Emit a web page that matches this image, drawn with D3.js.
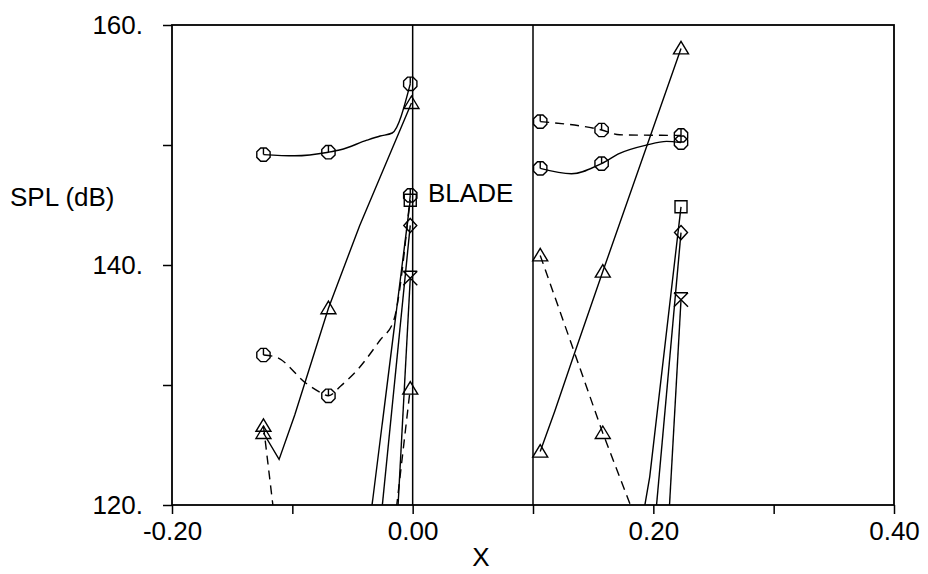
<!DOCTYPE html>
<html>
<head>
<meta charset="utf-8">
<script src="https://cdn.jsdelivr.net/npm/d3@7"></script>
<style>
body { margin: 0; background: #fff; }
text { font-family: "Liberation Sans", Arial, sans-serif; }
</style>
</head>
<body>
<script>
var w = 928,
    h = 574;

// axis ticks
var xTicks = [-0.2, -0.1, 0, 0.1, 0.2, 0.3, 0.4];
var yTicks = [120, 130, 140, 150, 160];
// vertical reference lines (blade positions)
var bladeX = [0, 0.1];
// x stations where the symbols sit
var markX = [-0.124, -0.07, -0.002, 0.106, 0.157, 0.223];

// left group  [x, SPL]
var octSolidL  = [[-0.124,149.2],[-0.098,149.1],[-0.07,149.4],[-0.060,149.6],[-0.038,150.4],[-0.027,150.75],[-0.017,151.0],[-0.002,155.1]];
var octDashL   = [[-0.124,132.5],[-0.113,132.3],[-0.088,130.1],[-0.077,129.4],[-0.07,129.1],[-0.060,129.9],[-0.046,131.25],[-0.027,133.75],[-0.016,135.3],[-0.002,145.8]];
var triSolidL  = [[-0.124,126.0],[-0.111,123.8],[-0.098,127.5],[-0.07,136.4],[-0.044,143.3],[-0.001,153.5]];
var triDashL   = [[-0.124,126.6],[-0.064,76],[-0.002,129.7]];
var sqrL       = [[-0.07,91],[-0.002,145.4]];
var diaL       = [[-0.07,75],[-0.002,143.3]];
var bowL       = [[-0.07,12],[-0.002,138.9]];

// right group
var octDashR   = [[0.106,151.95],[0.157,151.25],[0.172,150.85],[0.223,150.8]];
var octSolidR  = [[0.106,148.05],[0.132,147.6],[0.157,148.45],[0.172,149.3],[0.1945,150.0],[0.211,150.3],[0.223,150.2]];
var triSolidR  = [[0.106,124.45],[0.118,127.8],[0.1335,132.35],[0.158,139.45],[0.223,158.05]];
var triDashR   = [[0.106,140.8],[0.158,126.0],[0.223,109]];
var sqrR       = [[0.157,99],[0.197,122.35],[0.223,144.85]];
var diaR       = [[0.157,69],[0.223,142.7]];
var bowR       = [[0.157,19],[0.223,137.1]];

var series = [
  {pts: octSolidL, sym: "oct", dash: false},
  {pts: octDashL,  sym: "oct", dash: true},
  {pts: triSolidL, sym: "tri", dash: false},
  {pts: triDashL,  sym: "tri", dash: true},
  {pts: sqrL,      sym: "sqr", dash: false},
  {pts: diaL,      sym: "dia", dash: false},
  {pts: bowL,      sym: "bow", dash: false},
  {pts: octDashR,  sym: "oct", dash: true},
  {pts: octSolidR, sym: "oct", dash: false},
  {pts: triSolidR, sym: "tri", dash: false},
  {pts: triDashR,  sym: "tri", dash: true},
  {pts: sqrR,      sym: "sqr", dash: false},
  {pts: diaR,      sym: "dia", dash: false},
  {pts: bowR,      sym: "bow", dash: false}
];

var pLeft = 172, pRight = 894, pTop = 25, pBottom = 505;
var fontSize = 26;

var x = d3.scaleLinear().domain([-0.2, 0.4]).range([pLeft, pRight]);
var y = d3.scaleLinear().domain([120, 160]).range([pBottom, pTop]);

var svg = d3.select("body").append("svg").attr("width", w).attr("height", h);

svg.append("clipPath").attr("id", "plot")
  .append("rect")
  .attr("x", pLeft).attr("y", pTop)
  .attr("width", pRight - pLeft).attr("height", pBottom - pTop);

// axes
var xAxis = d3.axisBottom(x)
  .tickValues(xTicks)
  .tickSize(9)
  .tickSizeOuter(0)
  .tickPadding(8)
  .tickFormat(function(d) { return Math.round(d * 10) % 2 === 0 ? d.toFixed(2) : ""; });

var yAxis = d3.axisLeft(y)
  .tickValues(yTicks)
  .tickSize(9)
  .tickSizeOuter(0)
  .tickPadding(20)
  .tickFormat(function(d) { return d % 20 === 0 ? d + "." : ""; });

var gx = svg.append("g").attr("transform", "translate(0," + pBottom + ")").call(xAxis);
var gy = svg.append("g").attr("transform", "translate(" + pLeft + ",0)").call(yAxis);

[gx, gy].forEach(function(g) {
  g.select(".domain").remove();
  g.selectAll("line").attr("stroke", "#000").attr("stroke-width", 1.5);
  g.selectAll("text").attr("font-size", fontSize).attr("fill", "#000")
    .style("font-family", '"Liberation Sans", Arial, sans-serif');
});

// frame
svg.append("rect")
  .attr("x", pLeft).attr("y", pTop)
  .attr("width", pRight - pLeft).attr("height", pBottom - pTop)
  .attr("fill", "none").attr("stroke", "#000").attr("stroke-width", 1.8);

// blade lines
svg.selectAll(".blade")
  .data(bladeX)
  .enter()
  .append("line")
  .attr("class", "blade")
  .attr("x1", function(d) { return x(d); })
  .attr("x2", function(d) { return x(d); })
  .attr("y1", pTop).attr("y2", pBottom)
  .attr("stroke", "#000").attr("stroke-width", 1.5);

var smoothLine = d3.line()
  .x(function(d) { return x(d[0]); })
  .y(function(d) { return y(d[1]); })
  .curve(d3.curveMonotoneX);

var straightLine = d3.line()
  .x(function(d) { return x(d[0]); })
  .y(function(d) { return y(d[1]); });

var plot = svg.append("g").attr("clip-path", "url(#plot)");

plot.selectAll(".series")
  .data(series)
  .enter()
  .append("path")
  .attr("class", "series")
  .attr("d", function(d) { return d.sym === "oct" ? smoothLine(d.pts) : straightLine(d.pts); })
  .attr("fill", "none")
  .attr("stroke", "#000")
  .attr("stroke-width", 1.4)
  .attr("stroke-dasharray", function(d) { return d.dash ? "9,6" : null; });

function symbolPath(sym) {
  var p = d3.path(), i, a, r;
  if (sym === "oct") {
    r = 7.2;
    for (i = 0; i < 8; i++) {
      a = Math.PI / 8 + i * Math.PI / 4;
      if (i === 0) p.moveTo(r * Math.cos(a), r * Math.sin(a));
      else p.lineTo(r * Math.cos(a), r * Math.sin(a));
    }
    p.closePath();
    p.moveTo(0, 0); p.lineTo(0, -r);
  } else if (sym === "tri") {
    p.moveTo(0, -7); p.lineTo(7.5, 5.5); p.lineTo(-7.5, 5.5); p.closePath();
  } else if (sym === "sqr") {
    p.rect(-6, -6, 12, 12);
  } else if (sym === "dia") {
    p.moveTo(0, -7); p.lineTo(6.5, 0); p.lineTo(0, 7); p.lineTo(-6.5, 0); p.closePath();
  } else if (sym === "bow") {
    p.moveTo(-7, -7); p.lineTo(7, -7);
    p.moveTo(-7, -7); p.lineTo(7, 7);
    p.moveTo(7, -7); p.lineTo(-7, 7);
  }
  return p.toString();
}

series.forEach(function(s) {
  var marks = s.pts.filter(function(d) {
    return markX.some(function(m) { return Math.abs(m - d[0]) < 0.003; });
  });
  plot.selectAll(null)
    .data(marks)
    .enter()
    .append("path")
    .attr("transform", function(d) { return "translate(" + x(d[0]) + "," + y(d[1]) + ")"; })
    .attr("d", symbolPath(s.sym))
    .attr("fill", "none")
    .attr("stroke", "#000")
    .attr("stroke-width", 1.4);
});

// labels
svg.append("text").text("SPL (dB)")
  .attr("x", 10).attr("y", 206)
  .attr("font-size", fontSize).attr("fill", "#000");

svg.append("text").text("BLADE")
  .attr("x", 428).attr("y", 202)
  .attr("font-size", fontSize).attr("fill", "#000");

svg.append("text").text("X")
  .attr("x", 481).attr("y", 566)
  .attr("text-anchor", "middle")
  .attr("font-size", fontSize).attr("fill", "#000");
</script>
</body>
</html>
